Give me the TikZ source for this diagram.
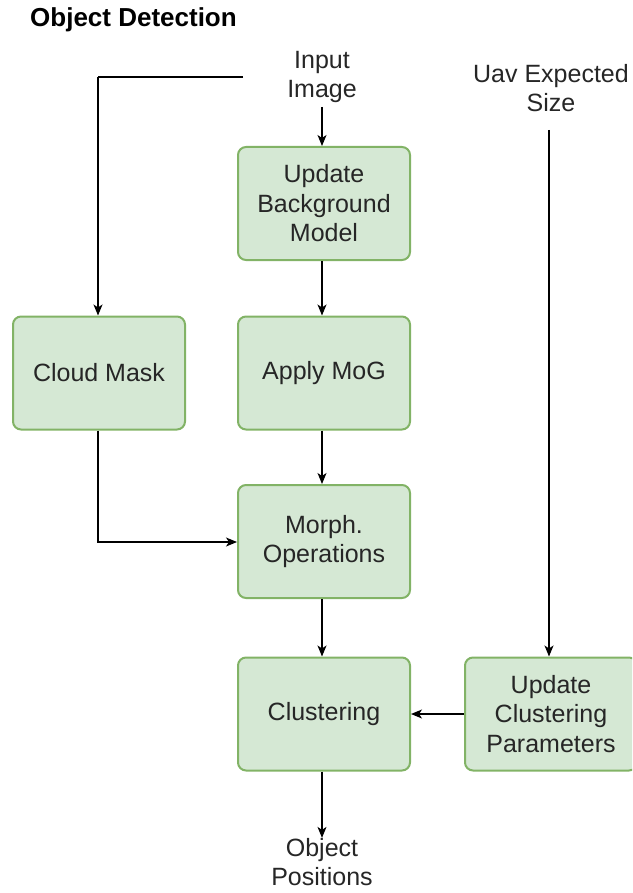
\documentclass[tikz,border=0pt]{standalone}
\usepackage{fontspec}
\setmainfont{Liberation Sans}
\usetikzlibrary{arrows.meta}
\definecolor{boxfill}{HTML}{D5E8D4}
\definecolor{boxdraw}{HTML}{82B366}
\begin{document}
\begin{tikzpicture}[x=1pt,y=-1pt,
  every node/.style={font=\fontsize{25}{29.5}\selectfont, text=black!85, align=center, inner sep=0pt},
  procbox/.style={draw=boxdraw, fill=boxfill, line width=2pt, rounded corners=8pt,
    minimum width=172pt, minimum height=113pt},
  conn/.style={draw=black, line width=1.2pt, -{Stealth[length=11pt,width=9pt,inset=3pt]}},
  plain/.style={draw=black, line width=1.2pt}]
\useasboundingbox (0,0) rectangle (632,893);
\clip (0,0) rectangle (632,893);
\node[anchor=base west, font=\fontsize{26}{30}\selectfont\bfseries, text=black] (title) at (30,27) {Object Detection};
\node (input) at (322,77) {Input\\Image};
\node (uav) at (551,88) {Uav Expected\\Size};
\node[procbox] (ubm) at (324,203.5) {Update\\Background\\Model};
\node[procbox] (mog) at (324,373) {Apply MoG};
\node[procbox] (cloud) at (99,373) {Cloud Mask};
\node[procbox] (morph) at (324,541.5) {Morph.\\Operations};
\node[procbox] (clus) at (324,714) {Clustering};
\node[procbox] (ucp) at (551,714) {Update\\Clustering\\Parameters};
\node (out) at (322,862) {Object\\Positions};
\coordinate (inleft) at (243,77);
\coordinate (uavtop) at (549,130);
\path[conn] (322,107) -- (ubm.north -| 322,0);
\path[plain] (inleft) -- (98,77);
\path[conn] (98,77) -- (cloud.north -| 98,0);
\path[conn] (ubm.south -| 322,0) -- (mog.north -| 322,0);
\path[conn] (mog.south -| 322,0) -- (morph.north -| 322,0);
\path[conn] (cloud.south -| 98,0) -- (98,542) -- (morph.west |- 0,542);
\path[conn] (morph.south -| 322,0) -- (clus.north -| 322,0);
\path[conn] (uavtop) -- (ucp.north -| 549,0);
\path[conn] (ucp.west) -- (clus.east);
\path[conn] (clus.south -| 322,0) -- (out.north -| 322,0);
\end{tikzpicture}
\end{document}
